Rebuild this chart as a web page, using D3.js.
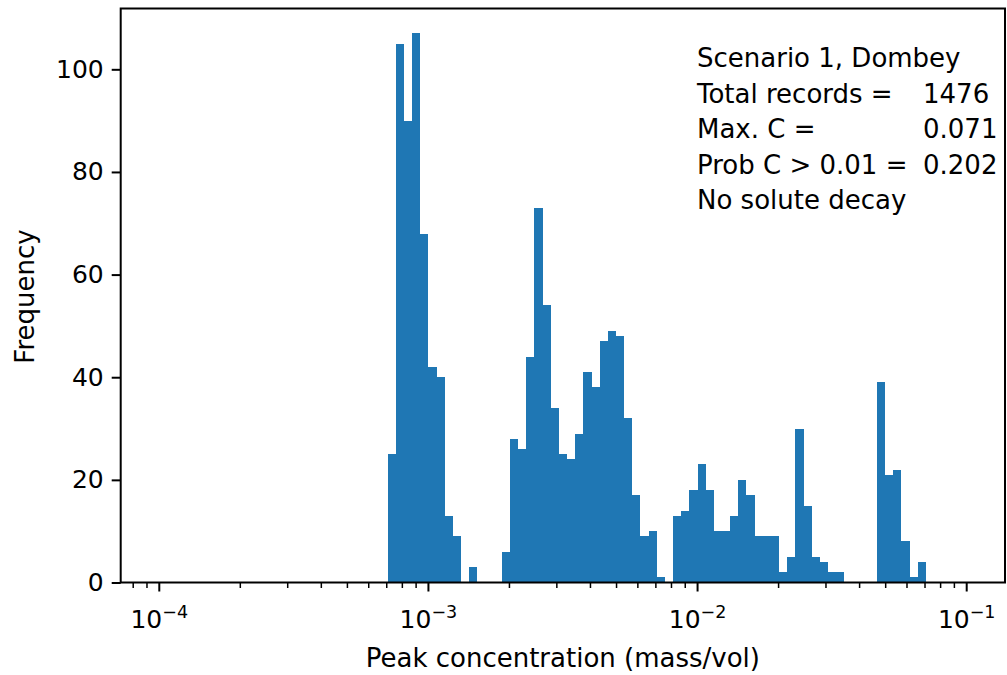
<!DOCTYPE html>
<html>
<head>
<meta charset="utf-8">
<script src="https://cdn.jsdelivr.net/npm/d3@7"></script>
<style>
  html, body { margin: 0; padding: 0; background: #fff; }
  svg { display: block; }
  text { font-family: "DejaVu Sans", sans-serif; fill: #000; }
</style>
</head>
<body>
<svg id="chart" width="1007" height="675"></svg>
<script>
// Histogram of peak concentrations: edges = logspace(-4, -1, 100) -> 99 bins
const binLogMin = -4;
const binLogMax = -1;
const binCount = 99;

// counts per bin (index 0 = lowest bin)
const counts = [
  0, 0, 0, 0, 0, 0, 0, 0, 0, 0,
  0, 0, 0, 0, 0, 0, 0, 0, 0, 0,
  0, 0, 0, 0, 0, 0, 0, 0, 25, 105,
  90, 107, 68, 42, 40, 13, 9, 0, 3, 0,
  0, 0, 6, 28, 26, 44, 73, 54, 34, 25,
  24, 29, 41, 38, 47, 49, 48, 32, 17, 9,
  10, 1, 0, 13, 14, 18, 23, 18, 10, 10,
  13, 20, 17, 9, 9, 9, 2, 5, 30, 15,
  5, 4, 2, 2, 0, 0, 0, 0, 39, 21,
  22, 8, 1, 4, 0, 0, 0, 0, 0
];

const yTicks = [0, 20, 40, 60, 80, 100];
const xTicks = [1e-4, 1e-3, 1e-2, 1e-1];
const xTickExps = ["\u22124", "\u22123", "\u22122", "\u22121"];

const infoLabels = ["Scenario 1, Dombey", "Total records =", "Max. C =", "Prob C > 0.01 =", "No solute decay"];
const infoValues = ["", "1476", "0.071", "0.202", ""];

const xDomain = [Math.pow(10, -4.1434), Math.pow(10, -0.8577)];
const yDomain = [0, 111.85];

const plot = { left: 120.7, right: 1005, top: 8.5, bottom: 582.5 };

const svg = d3.select("#chart");

const x = d3.scaleLog().domain(xDomain).range([plot.left, plot.right]);
const y = d3.scaleLinear().domain(yDomain).range([plot.bottom, plot.top]);

// bin edges
const edges = d3.range(binCount + 1).map(i => Math.pow(10, binLogMin + i * (binLogMax - binLogMin) / binCount));
const bins = counts.map((c, i) => ({ x0: edges[i], x1: edges[i + 1], count: c }));

// bars
svg.append("g")
  .attr("shape-rendering", "crispEdges")
  .selectAll("rect")
  .data(bins.filter(b => b.count > 0))
  .join("rect")
  .attr("x", d => x(d.x0))
  .attr("width", d => x(d.x1) - x(d.x0))
  .attr("y", d => y(d.count))
  .attr("height", d => y(0) - y(d.count))
  .attr("fill", "#1f77b4");

// frame
svg.append("rect")
  .attr("x", plot.left).attr("y", plot.top)
  .attr("width", plot.right - plot.left).attr("height", plot.bottom - plot.top)
  .attr("fill", "none").attr("stroke", "#000").attr("stroke-width", 2);

// y axis
const yAxis = svg.append("g")
  .attr("transform", `translate(${plot.left},0)`)
  .call(d3.axisLeft(y).tickValues(yTicks).tickSize(9).tickPadding(8).tickFormat(d3.format("d")));
yAxis.select(".domain").remove();
yAxis.selectAll(".tick line").attr("stroke", "#000").attr("stroke-width", 2);
yAxis.selectAll(".tick text").style("font-size", "25px").style("font-family", "DejaVu Sans").attr("fill", "#000");

// x axis: minor ticks
const minorTicks = [];
for (let e = -5; e <= 0; e++) {
  for (let m = 2; m <= 9; m++) {
    const v = m * Math.pow(10, e);
    if (v >= xDomain[0] && v <= xDomain[1]) minorTicks.push(v);
  }
}
const xg = svg.append("g").attr("transform", `translate(0,${plot.bottom})`);
xg.selectAll("line.minor")
  .data(minorTicks)
  .join("line")
  .attr("class", "minor")
  .attr("x1", d => x(d)).attr("x2", d => x(d))
  .attr("y1", 0).attr("y2", 5.5)
  .attr("stroke", "#000").attr("stroke-width", 1.5);
xg.selectAll("line.major")
  .data(xTicks)
  .join("line")
  .attr("class", "major")
  .attr("x1", d => x(d)).attr("x2", d => x(d))
  .attr("y1", 0).attr("y2", 9)
  .attr("stroke", "#000").attr("stroke-width", 2);

// x tick labels as 10^n
const xl = xg.selectAll("text.tl")
  .data(xTicks)
  .join("text")
  .attr("class", "tl")
  .attr("x", d => x(d))
  .attr("y", 45.5)
  .attr("text-anchor", "middle")
  .style("font-size", "25px");
xl.append("tspan").text("10");
xl.append("tspan")
  .attr("dy", -10)
  .style("font-size", "17.5px")
  .text((d, i) => xTickExps[i]);

// axis titles
svg.append("text")
  .attr("x", (plot.left + plot.right) / 2)
  .attr("y", 667)
  .attr("text-anchor", "middle")
  .style("font-size", "26px")
  .text("Peak concentration (mass/vol)");

svg.append("text")
  .attr("transform", `translate(34,${(plot.top + plot.bottom) / 2 + 1}) rotate(-90)`)
  .attr("text-anchor", "middle")
  .style("font-size", "26px")
  .text("Frequency");

// info block
const infoX = 697;
const valueX = 923;
const lineY0 = 67;
const lineGap = 35.5;
const info = svg.append("g");
info.selectAll("text.lab")
  .data(infoLabels)
  .join("text")
  .attr("class", "lab")
  .attr("x", infoX)
  .attr("y", (d, i) => lineY0 + i * lineGap)
  .style("font-size", "26px")
  .text(d => d);
info.selectAll("text.val")
  .data(infoValues)
  .join("text")
  .attr("class", "val")
  .attr("x", valueX)
  .attr("y", (d, i) => lineY0 + i * lineGap)
  .style("font-size", "26px")
  .text(d => d);
</script>
</body>
</html>
